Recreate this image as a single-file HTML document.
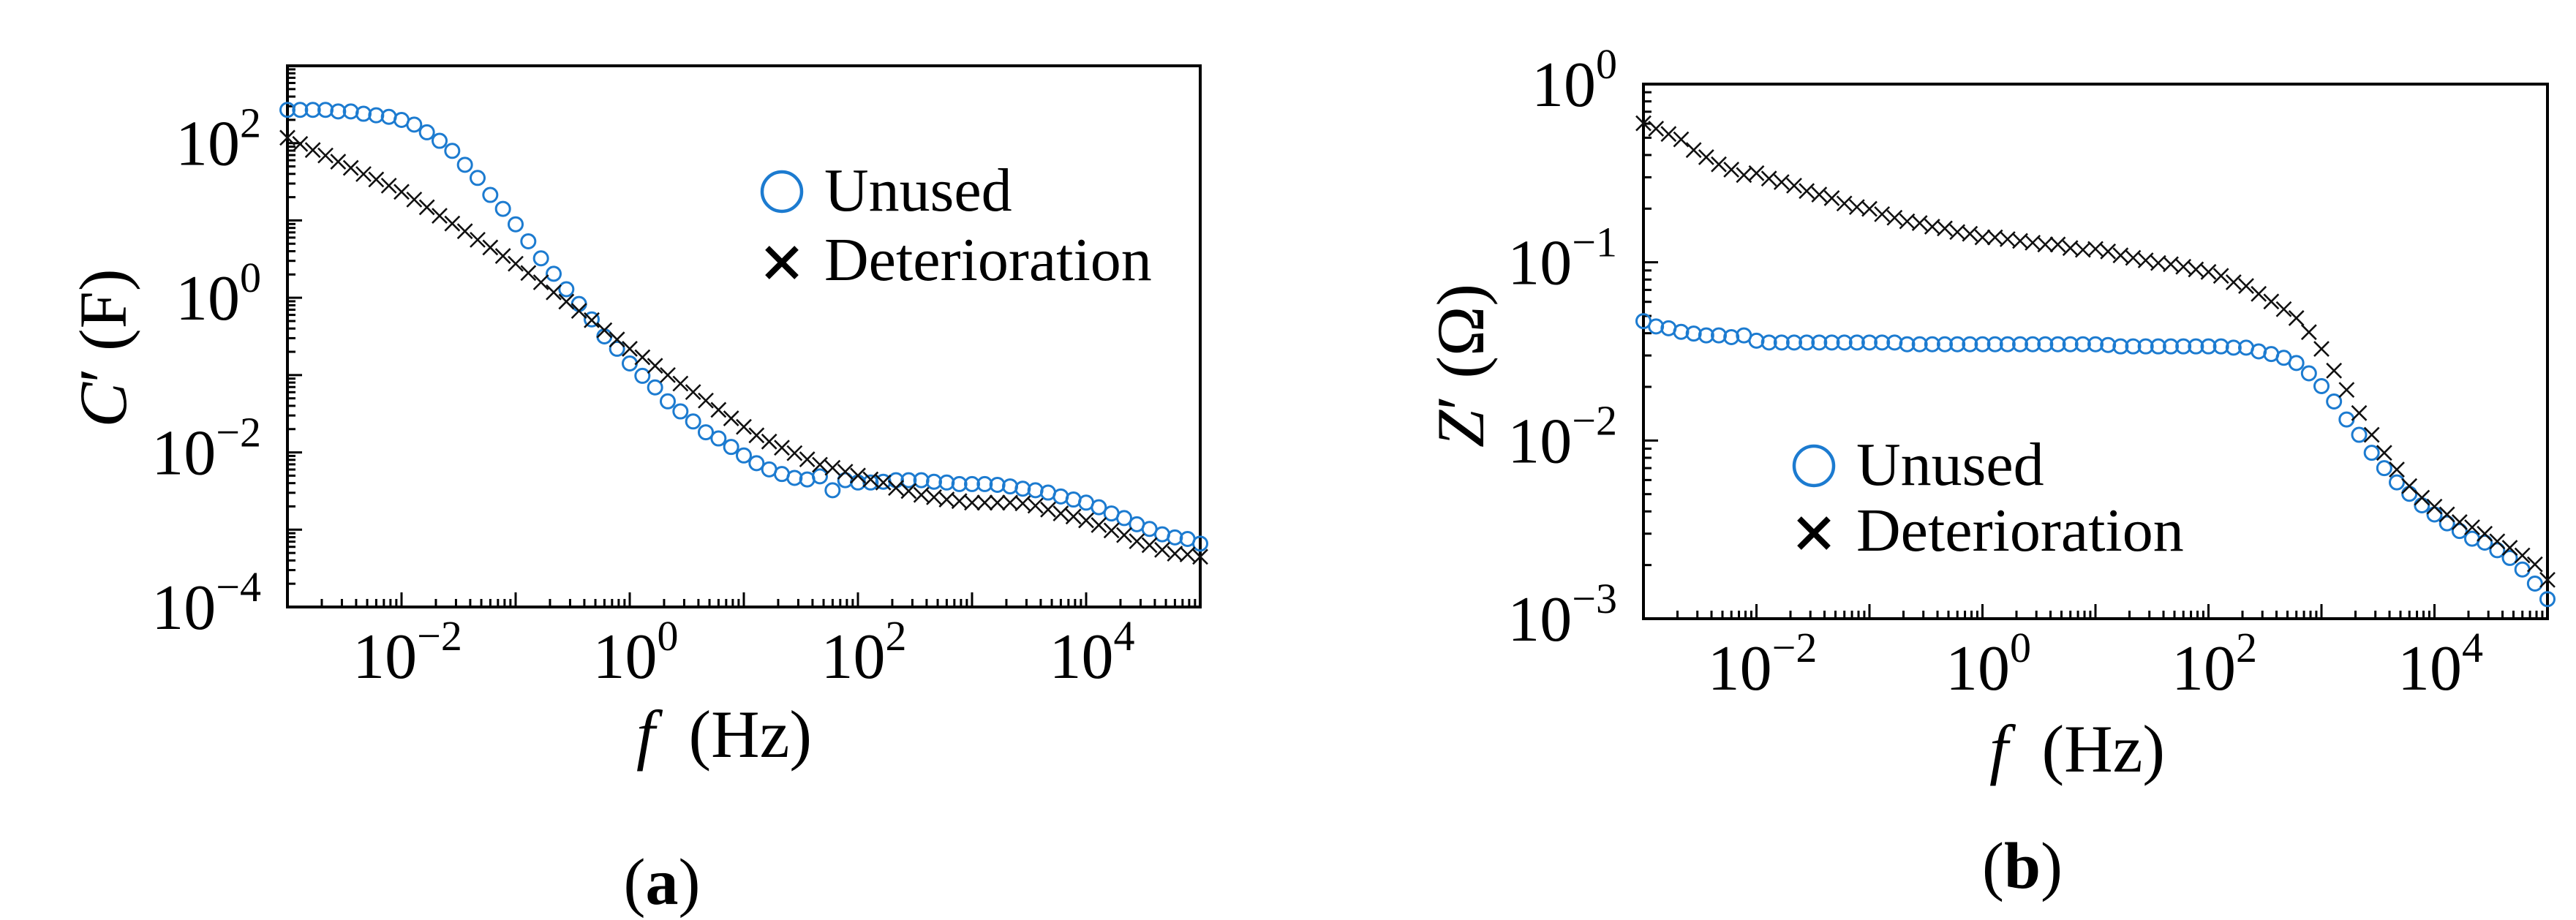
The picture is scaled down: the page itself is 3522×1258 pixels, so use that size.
<!DOCTYPE html>
<html><head><meta charset="utf-8">
<style>
html,body{margin:0;padding:0;background:#fff;}
svg{display:block;font-family:"Liberation Serif","DejaVu Serif",serif;}
</style></head>
<body>
<svg id="fig" width="3522" height="1258" viewBox="0 0 3522 1258" xmlns="http://www.w3.org/2000/svg">
<rect x="0" y="0" width="3522" height="1258" fill="#fff"/>
<g id="panelA"></g>
<g id="panelB"></g>
</svg>
<script>
// ---- data (log10 values) ----
const freqExponentStep = 9; // points per decade
const decadeTicks = [-2, 0, 2, 4];
const capYTicks = [2, 0, -2, -4];
const impYTicks = [0, -1, -2, -3];

const capUnusedLog = [2.43,2.43,2.43,2.43,2.41,2.41,2.38,2.36,2.34,2.30,2.24,2.14,2.03,1.90,1.72,1.55,1.33,1.15,0.95,0.73,0.51,0.31,0.11,-0.08,-0.28,-0.50,-0.66,-0.85,-1.01,-1.16,-1.34,-1.47,-1.60,-1.74,-1.82,-1.93,-2.04,
-2.14,-2.22,-2.28,-2.33,-2.35,-2.31,-2.49,-2.36,-2.39,-2.39,-2.38,-2.36,-2.36,-2.36,-2.38,-2.39,-2.41,-2.41,-2.41,-2.42,-2.44,-2.47,-2.49,-2.52,-2.57,-2.61,-2.65,-2.71,-2.79,-2.85,-2.93,-2.99,-3.06,-3.10,-3.12,-3.18];
const capDetLog = [2.07,1.99,1.91,1.84,1.76,1.68,1.60,1.53,1.45,1.37,1.27,1.17,1.06,0.96,0.86,0.75,0.65,0.54,0.44,0.32,0.20,0.07,-0.05,-0.17,-0.29,-0.42,-0.54,-0.66,-0.77,-0.88,-1.00,-1.11,-1.22,-1.33,-1.45,-1.56,-1.67,
-1.78,-1.86,-1.94,-2.01,-2.09,-2.16,-2.20,-2.25,-2.30,-2.35,-2.39,-2.46,-2.50,-2.55,-2.58,-2.61,-2.63,-2.65,-2.65,-2.65,-2.65,-2.66,-2.69,-2.74,-2.79,-2.83,-2.88,-2.94,-3.01,-3.07,-3.15,-3.20,-3.26,-3.31,-3.32,-3.35];
const impUnusedLog = [-1.33,-1.36,-1.37,-1.39,-1.40,-1.41,-1.41,-1.42,-1.41,-1.44,
-1.45,-1.45,-1.45,-1.45,-1.45,-1.45,-1.45,-1.45,-1.45,-1.45,-1.45,
-1.46,-1.46,-1.46,-1.46,-1.46,-1.46,-1.46,-1.46,-1.46,-1.46,-1.46,-1.46,-1.46,-1.46,-1.46,-1.46,
-1.464,-1.472,-1.472,-1.472,-1.472,-1.472,-1.472,-1.472,-1.472,-1.472,-1.479,-1.479,-1.50,-1.515,-1.536,-1.565,-1.623,-1.695,-1.781,-1.882,-1.968,-2.069,-2.155,-2.235,-2.299,-2.364,-2.415,-2.465,-2.508,-2.551,-2.573,-2.616,-2.659,-2.724,-2.803,-2.89];
const impDetLog = [-0.22,-0.25,-0.28,-0.31,-0.37,-0.41,-0.45,-0.48,-0.51,-0.50,-0.53,-0.55,-0.57,-0.60,-0.62,-0.64,-0.67,-0.69,-0.70,-0.73,-0.75,-0.77,-0.78,-0.80,-0.81,-0.83,-0.84,-0.86,-0.86,-0.87,-0.88,-0.89,-0.90,-0.90,-0.92,-0.93,
-0.925,-0.939,-0.961,-0.975,-0.989,-1.004,-1.011,-1.025,-1.04,-1.054,-1.076,-1.112,-1.133,-1.177,-1.22,-1.263,-1.313,-1.392,-1.486,-1.608,-1.716,-1.846,-1.968,-2.069,-2.163,-2.256,-2.321,-2.371,-2.415,-2.458,-2.487,-2.523,-2.566,-2.602,-2.645,-2.695,-2.782];

const NS = 'http://www.w3.org/2000/svg';
const BLUE = '#1c7bd0';
function mk(tag, attrs, parent){
  const e = document.createElementNS(NS, tag);
  for (const k in attrs) e.setAttribute(k, attrs[k]);
  parent.appendChild(e);
  return e;
}

function drawPanel(g, cfg){
  const sx = v => cfg.L + (v - cfg.x0) / (cfg.x1 - cfg.x0) * (cfg.R - cfg.L);
  const sy = v => cfg.B - (v - cfg.y0) / (cfg.y1 - cfg.y0) * (cfg.B - cfg.T);

  const fr = mk('rect', {x:cfg.L, y:cfg.T, width:cfg.R-cfg.L, height:cfg.B-cfg.T, fill:'none', stroke:'#000', 'stroke-width':4}, g);
  
  

  const xt = mk('g', {}, g);
  
  
  for (let d = cfg.x0; d < cfg.x1; d++){
    for (let m = 1; m <= 9; m++){
      const v = d + Math.log10(m);
      const x = sx(v);
      const len = m === 1 ? 20 : 11;
      if (m === 1 && d === cfg.x0) continue;
      mk('line', {x1:x, y1:cfg.B, x2:x, y2:cfg.B-len, stroke:'#000', 'stroke-width':3}, xt);
    }
  }
  const yt = mk('g', {}, g);
  
  
  for (let d = cfg.y0; d < cfg.y1; d++){
    for (let m = 1; m <= 9; m++){
      const v = d + Math.log10(m);
      const y = sy(v);
      const len = m === 1 ? 20 : 11;
      if (m === 1 && d === cfg.y0) continue;
      mk('line', {x1:cfg.L, y1:y, x2:cfg.L+len, y2:y, stroke:'#000', 'stroke-width':3}, yt);
    }
  }
  decadeTicks.forEach(p => {
    const t = mk('text', {x:sx(p)+8, y:cfg.B+97, 'font-size':88, 'text-anchor':'middle', fill:'#000'}, g);
    
    
    t.appendChild(document.createTextNode('10'));
    const s = mk('tspan', {dy:-38, 'font-size':58}, t);
    s.textContent = p < 0 ? '\u2212' + (-p) : String(p);
  });
  cfg.yTicks.forEach(p => {
    const t = mk('text', {x:cfg.L-36, y:sy(p)+30, 'font-size':88, 'text-anchor':'end', fill:'#000'}, g);
    
    
    t.appendChild(document.createTextNode('10'));
    const s = mk('tspan', {dy:-38, 'font-size':58}, t);
    s.textContent = p < 0 ? '\u2212' + (-p) : String(p);
  });

  const gu = mk('g', {fill:'none', stroke:BLUE, 'stroke-width':3}, g);
  
  
  cfg.unused.forEach((v, k) => {
    const c = mk('circle', {cx:sx(cfg.x0 + k/freqExponentStep), cy:sy(v), r:9.5}, gu);
    
    
  });
  const gd = mk('g', {stroke:'#111', 'stroke-width':2.6}, g);
  
  
  cfg.det.forEach((v, k) => {
    const x = sx(cfg.x0 + k/freqExponentStep), y = sy(v), h = 10;
    const p = mk('path', {d:`M${x-h},${y-h}L${x+h},${y+h}M${x-h},${y+h}L${x+h},${y-h}`}, gd);
    
    
  });

  const lg = mk('g', {}, g);
  
  
  const e1 = mk('g', {}, lg);
  
  
  mk('circle', {cx:cfg.legX, cy:cfg.legY1, r:27, fill:'none', stroke:BLUE, 'stroke-width':4.5}, e1);
  const t1 = mk('text', {x:cfg.legX+58, y:cfg.legY1+26, 'font-size':84, fill:'#000'}, e1);
  t1.textContent = 'Unused';
  const e2 = mk('g', {}, lg);
  
  
  const h = 20, X = cfg.legX, Y = cfg.legY2;
  mk('path', {d:`M${X-h},${Y-h}L${X+h},${Y+h}M${X-h},${Y+h}L${X+h},${Y-h}`, stroke:'#000', 'stroke-width':8}, e2);
  const t2 = mk('text', {x:cfg.legX+58, y:cfg.legY2+24, 'font-size':84, fill:'#000'}, e2);
  t2.textContent = 'Deterioration';

  const xl = mk('text', {x:cfg.xlabX, y:cfg.xlabY, 'font-size':92, 'text-anchor':'middle', fill:'#000'}, g);
  
  
  const fi = mk('tspan', {'font-style':'italic'}, xl); fi.textContent = 'f';
  const rest = mk('tspan', {}, xl); rest.textContent = '\u00a0\u00a0(Hz)';

  const yl = mk('text', {x:0, y:0, 'font-size':92, 'text-anchor':'middle', fill:'#000',
    transform:`translate(${cfg.ylabX},${cfg.ylabY}) rotate(-90)`}, g);
  
  
  const yi = mk('tspan', {'font-style':'italic'}, yl); yi.textContent = cfg.ySym;
  const yr = mk('tspan', {}, yl); yr.textContent = '\u2032 ' + cfg.yUnit;

  const cap = mk('text', {x:cfg.capX, y:cfg.capY, 'font-size':90, 'text-anchor':'middle', fill:'#000'}, g);
  
  
  const c1 = mk('tspan', {}, cap); c1.textContent = '(';
  const c2 = mk('tspan', {'font-weight':'bold'}, cap); c2.textContent = cfg.capLetter;
  const c3 = mk('tspan', {}, cap); c3.textContent = ')';
}

drawPanel(document.getElementById('panelA'), {
  L:393, R:1641, T:90, B:830, x0:-3, x1:5, y0:-4, y1:3, yTicks:capYTicks,
  unused:capUnusedLog, det:capDetLog,
  legX:1069, legY1:262, legY2:359,
  xlabX:990, xlabY:1035, ylabX:172, ylabY:476, ySym:'C', yUnit:'(F)',
  capX:905, capY:1236, capLetter:'a'
});
drawPanel(document.getElementById('panelB'), {
  L:2247, R:3483, T:115, B:846, x0:-3, x1:5, y0:-3, y1:0, yTicks:impYTicks,
  unused:impUnusedLog, det:impDetLog,
  legX:2480, legY1:637, legY2:729,
  xlabX:2840, xlabY:1055, ylabX:2028, ylabY:500, ySym:'Z', yUnit:'(\u03a9)',
  capX:2765, capY:1214, capLetter:'b'
});
</script>
</body></html>
